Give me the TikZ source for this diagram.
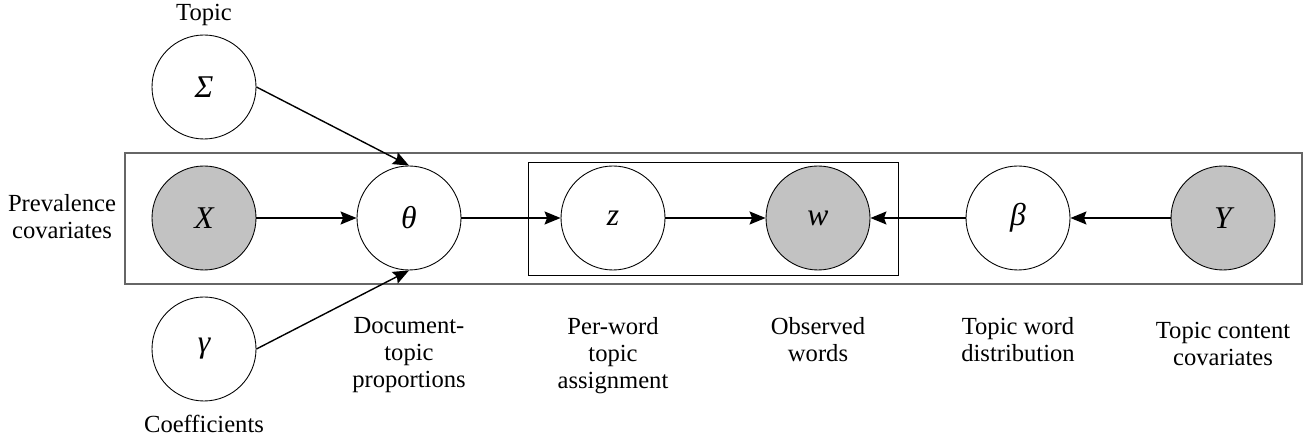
\documentclass[tikz,border=0pt]{standalone}
\usepackage{fontspec}
\setmainfont{LiberationSerif}[Extension=.ttf,UprightFont=*-Regular,ItalicFont=*-Italic,BoldFont=*-Bold]
\usetikzlibrary{arrows.meta}

\begin{document}
\begin{tikzpicture}[
    var/.style={shape=circle,draw=black,line width=0.5pt,minimum size=2.08cm,inner sep=0pt,font=\fontsize{18}{20}\selectfont\itshape},
    obs/.style={var,fill=black!24!white},
    lbl/.style={align=center,inner sep=0pt,font=\fontsize{14}{15.4}\selectfont},
    >={Stealth[length=0.32cm,width=0.26cm,inset=0.05cm]}
  ]
            \useasboundingbox (0,0) rectangle (26.28,8.78);

            % plates
            \draw[black!60,line width=0.8pt] (2.50,3.10) rectangle (26.04,5.72);
            \draw[black,line width=0.5pt] (10.56,3.28) rectangle (17.96,5.54);

            \node[var] (S) at (4.08,7.04) {Σ};
            \node[obs] (X) at (4.08,4.42) {X};
            \node[var] (G) at (4.08,1.80) {γ};
            \node[var] (T) at (8.18,4.42) {θ};
            \node[var] (Z) at (12.26,4.42) {z};
            \node[obs] (W) at (16.36,4.42) {w};
            \node[var] (B) at (20.36,4.42) {β};
            \node[obs] (Y) at (24.46,4.42) {Y};

            \path [->,line width=0.8pt] (S.east) edge (T.north);
            \path [->,line width=0.8pt] (X) edge (T);
            \path [->,line width=0.8pt] (G.east) edge (T.south);
            \path [->,line width=0.8pt] (T) edge (Z);
            \path [->,line width=0.8pt] (Z) edge (W);
            \path [->,line width=0.8pt] (B) edge (W);
            \path [->,line width=0.8pt] (Y) edge (B);

            % labels
            \node[lbl] (lS) at (4.08,8.48) {Topic};
            \node[lbl] (lG) at (4.08,0.30) {Coefficients};
            \node[lbl] (lX) at (1.24,4.44) {Prevalence\\covariates};
            \node[lbl,anchor=north] (lT) at (8.18,2.44) {Document-\\topic\\proportions};
            \node[lbl,anchor=north] (lZ) at (12.26,2.44) {Per-word\\topic\\assignment};
            \node[lbl,anchor=north] (lW) at (16.36,2.44) {Observed\\words};
            \node[lbl,anchor=north] (lB) at (20.36,2.44) {Topic word\\distribution};
            \node[lbl,anchor=north] (lY) at (24.46,2.34) {Topic content\\covariates};
\end{tikzpicture}
\end{document}
